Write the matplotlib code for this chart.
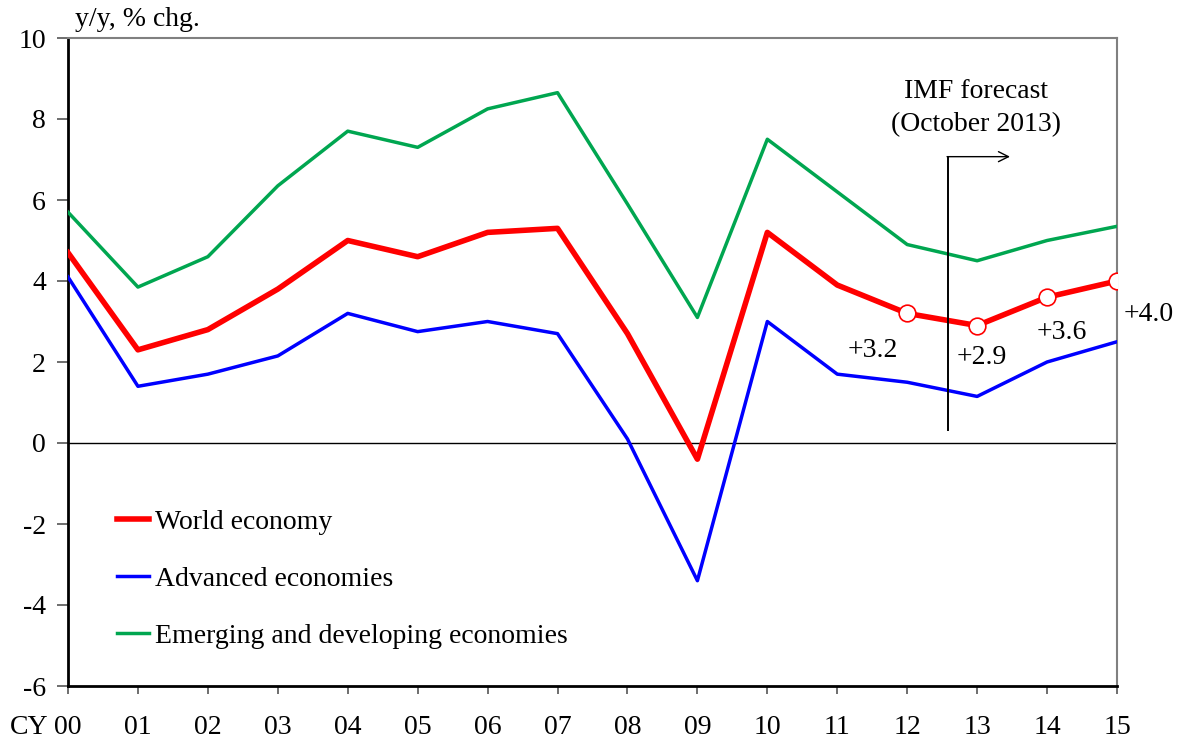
import matplotlib
matplotlib.use('Agg')
import matplotlib.pyplot as plt

plt.rcParams['font.family'] = ['Liberation Serif', 'DejaVu Serif']

years = ['00', '01', '02', '03', '04', '05', '06', '07',
         '08', '09', '10', '11', '12', '13', '14', '15']
world = [4.7, 2.3, 2.8, 3.8, 5.0, 4.6, 5.2, 5.3, 2.7, -0.4, 5.2, 3.9, 3.2, 2.9, 3.6, 4.0]
advanced = [4.1, 1.4, 1.7, 2.15, 3.2, 2.75, 3.0, 2.7, 0.1, -3.4, 3.0, 1.7, 1.5, 1.15, 2.0, 2.5]
emerging = [5.7, 3.85, 4.6, 6.35, 7.7, 7.3, 8.25, 8.65, 5.9, 3.1, 7.5, 6.2, 4.9, 4.5, 5.0, 5.35]

forecast_idx = [12, 13, 14, 15]
forecast_labels = ['+3.2', '+2.9', '+3.6', '+4.0']
label_pos = [(11.51, 2.28), (13.06, 2.1), (14.21, 2.73), (15.46, 3.18)]

fs = 20
x = list(range(len(years)))

fig = plt.figure(figsize=(11.83, 7.44), dpi=100)
ax = fig.add_axes([68 / 1183, 1 - 686 / 744, (1117 - 68) / 1183, (686 - 38) / 744])

ax.axhline(0, color='black', lw=1.0, zorder=1)

ax.plot(x, world, color='#ff0000', lw=4.0, label='World economy', zorder=4)
ax.plot(x, advanced, color='#0000ff', lw=2.5, label='Advanced economies', zorder=3)
ax.plot(x, emerging, color='#00a650', lw=2.5, label='Emerging and developing economies', zorder=3)

ax.plot([x[i] for i in forecast_idx], [world[i] for i in forecast_idx], 'o',
        ms=12, mfc='white', mec='#ff0000', mew=1.2, zorder=5)
for lab, (lx, ly) in zip(forecast_labels, label_pos):
    ax.text(lx, ly, lab, fontsize=fs, ha='center', va='center', zorder=6)

# forecast marker
ax.plot([12.59, 12.59], [0.32, 7.07], color='black', lw=1.4, zorder=6)
ax.annotate('', xy=(13.47, 7.07), xytext=(12.57, 7.07),
            arrowprops=dict(arrowstyle='->', color='black', lw=1.0,
                            mutation_scale=18, shrinkA=0, shrinkB=0), zorder=6)
ax.text(12.99, 8.67, 'IMF forecast', fontsize=fs, ha='center', va='center')
ax.text(12.99, 7.85, '(October 2013)', fontsize=fs, ha='center', va='center')

ax.set_xlim(0, 15)
ax.set_ylim(-6, 10)
ax.set_xticks(x)
ax.set_xticklabels(years, fontsize=fs)
ax.set_yticks(range(-6, 11, 2))
ax.set_yticklabels([str(v) for v in range(-6, 11, 2)], fontsize=fs)
ax.tick_params(axis='x', direction='out', length=6, width=1.2, color='#555555', pad=15)
ax.tick_params(axis='y', direction='out', length=8, width=1.2, color='#555555', pad=8)

for side in ['top', 'right']:
    ax.spines[side].set_color('#808080')
    ax.spines[side].set_linewidth(1.5)
for side in ['left', 'bottom']:
    ax.spines[side].set_color('black')
    ax.spines[side].set_linewidth(2.0)

leg = ax.legend(loc='upper left', bbox_to_anchor=(0.047, 0.272), frameon=False,
                fontsize=fs, handlelength=1.15, handletextpad=0.2,
                labelspacing=1.13, borderpad=0, borderaxespad=0)

fig.text(75 / 1183, 1 - 20 / 744, 'y/y, % chg.', fontsize=fs, ha='left', va='center')
fig.text(10 / 1183, 1 - 727 / 744, 'CY', fontsize=fs, ha='left', va='center')

fig.savefig('out.png', dpi=100)
